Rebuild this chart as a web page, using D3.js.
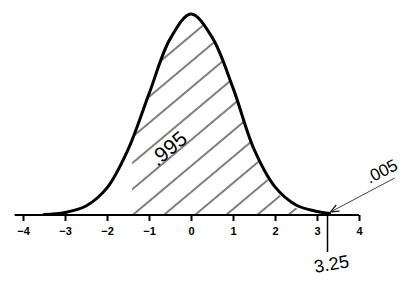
<!DOCTYPE html>
<html>
<head>
<meta charset="utf-8">
<script src="https://cdn.jsdelivr.net/npm/d3@7"></script>
<style>
  html, body { margin: 0; padding: 0; background: #fff; }
  svg { display: block; }
  .tick text { font-family: "Liberation Sans", Arial, sans-serif; font-size: 11px; font-weight: bold; }
  .hand { font-family: "Liberation Sans", sans-serif; font-weight: normal; fill: #000; }
</style>
</head>
<body>
<svg id="chart" width="413" height="281"></svg>
<script>
// curve heights (density units)
const curveX = [-3.5, -3, -2.5, -2, -1.5, -1, -0.5, 0, 0.5, 1, 1.5, 2, 2.5, 3, 3.3];
const curveY = [0.001, 0.005, 0.018, 0.054, 0.13, 0.241, 0.35, 0.4, 0.354, 0.253, 0.131, 0.056, 0.02, 0.007, 0.003];
const tickValues = [-4, -3, -2, -1, 0, 1, 2, 3, 4];
const shadeFrom = -1.4;
const cutoff = 3.25;
const areaLabel = '.995';
const tailLabel = '.005';
const cutoffLabel = '3.25';

const svg = d3.select('#chart');
const baseY = 215;

const x = d3.scaleLinear().domain([-4, 4]).range([23, 359]);
const y = d3.scaleLinear().domain([0, 0.4]).range([baseY, 14]);

const pts = curveX.map((v, i) => ({ x: v, y: curveY[i] }));

// Hatch pattern
const defs = svg.append('defs');
const pat = defs.append('pattern')
  .attr('id', 'hatch')
  .attr('patternUnits', 'userSpaceOnUse')
  .attr('width', 20)
  .attr('height', 20)
  .attr('patternTransform', 'rotate(-40)');
pat.append('line')
  .attr('x1', 0).attr('y1', 10).attr('x2', 20).attr('y2', 10)
  .attr('stroke', '#000')
  .attr('stroke-width', 1);

defs.append('clipPath').attr('id', 'shadeClip')
  .append('rect')
  .attr('x', x(shadeFrom))
  .attr('y', 0)
  .attr('width', x(cutoff) - x(shadeFrom))
  .attr('height', baseY);

const area = d3.area()
  .x(d => x(d.x))
  .y0(baseY)
  .y1(d => y(d.y) + 3)
  .curve(d3.curveCatmullRom);

svg.append('path')
  .datum(pts)
  .attr('d', area)
  .attr('fill', 'url(#hatch)')
  .attr('clip-path', 'url(#shadeClip)');

// Axis
const axisG = svg.append('g')
  .attr('transform', `translate(0,${baseY})`)
  .call(d3.axisBottom(x).tickValues(tickValues).tickSize(6).tickPadding(6).tickFormat(d3.format('d')));
axisG.select('.domain').remove();
axisG.selectAll('.tick line').attr('stroke', '#000').attr('stroke-width', 2);
axisG.selectAll('.tick text').attr('fill', '#000');

svg.append('line')
  .attr('x1', x(-4.2)).attr('x2', x(4))
  .attr('y1', baseY).attr('y2', baseY)
  .attr('stroke', '#000')
  .attr('stroke-width', 2);

// Curve
const line = d3.line()
  .x(d => x(d.x))
  .y(d => y(d.y))
  .curve(d3.curveCatmullRom);

svg.append('path')
  .datum(pts)
  .attr('d', line)
  .attr('fill', 'none')
  .attr('stroke', '#000')
  .attr('stroke-width', 3)
  .attr('stroke-linecap', 'round');

// Cutoff marker
svg.append('line')
  .attr('x1', x(cutoff)).attr('x2', x(cutoff))
  .attr('y1', baseY).attr('y2', baseY + 37)
  .attr('stroke', '#000')
  .attr('stroke-width', 1.5);

svg.append('text')
  .attr('class', 'hand')
  .attr('transform', `translate(${x(cutoff) + 5},${baseY + 55}) rotate(-10)`)
  .attr('text-anchor', 'middle')
  .attr('font-size', 18)
  .text(cutoffLabel);

// Area label
svg.append('text')
  .attr('class', 'hand')
  .attr('transform', `translate(${x(-0.8)},${y(0.095)}) rotate(-40)`)
  .attr('font-size', 21)
  .text(areaLabel);

// Tail label + arrow
svg.append('text')
  .attr('class', 'hand')
  .attr('transform', `translate(${x(4.25)},${baseY - 31}) rotate(-27)`)
  .attr('font-size', 17)
  .text(tailLabel);

const tipX = x(cutoff) + 3, tipY = baseY - 3;
const tailX = x(4.85), tailY = baseY - 37;
svg.append('line')
  .attr('x1', tailX).attr('y1', tailY)
  .attr('x2', tipX).attr('y2', tipY)
  .attr('stroke', '#444')
  .attr('stroke-width', 1);

const ang = Math.atan2(tailY - tipY, tailX - tipX);
const head = 9, spread = 0.4;
svg.append('path')
  .attr('d', `M${tipX + head * Math.cos(ang - spread)},${tipY + head * Math.sin(ang - spread)}L${tipX},${tipY}L${tipX + head * Math.cos(ang + spread)},${tipY + head * Math.sin(ang + spread)}`)
  .attr('fill', 'none')
  .attr('stroke', '#222')
  .attr('stroke-width', 1.3);
</script>
</body>
</html>
